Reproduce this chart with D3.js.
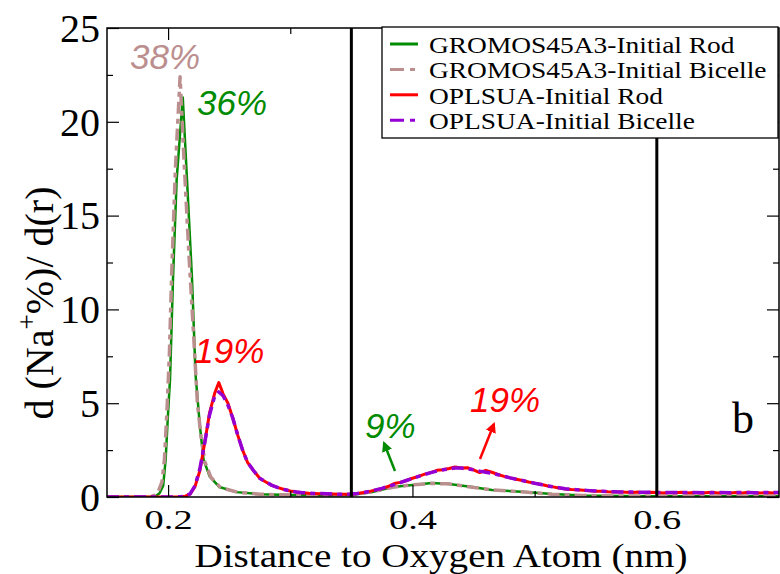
<!DOCTYPE html>
<html><head><meta charset="utf-8">
<script src="https://cdn.jsdelivr.net/npm/d3@7"></script>
<style>
html,body{margin:0;padding:0;background:#fff;}
svg{display:block;}
</style>
</head><body>
<svg id="chart" width="780" height="574"></svg>
<script>
// ---------------- data ----------------
const xDomain = [0.15, 0.7];
const yDomain = [0, 25];
const xMajorTicks = [0.2, 0.4, 0.6];
const xMinorTicks = [0.3, 0.5];
const yMajorTicks = [0, 5, 10, 15, 20, 25];
const yMinorTicks = [2.5, 7.5, 12.5, 17.5, 22.5];
const xTickLabels = ["0.2", "0.4", "0.6"];
const yTickLabels = ["0", "5", "10", "15", "20", "25"];
const vLines = [0.35, 0.6];

const seriesNames = ["GROMOS45A3-Initial Rod", "GROMOS45A3-Initial Bicelle", "OPLSUA-Initial Rod", "OPLSUA-Initial Bicelle"];
const seriesColors = ["rgb(0,139,0)", "rgb(188,143,143)", "rgb(255,0,0)", "rgb(148,0,211)"];

const gromosRod = [[0.150,0],[0.170,0],[0.185,0],[0.190,0.05],[0.193,0.2],[0.196,0.6],[0.198,2.0],[0.200,4.5],[0.2016,6.3],[0.204,11.6],[0.207,16.9],[0.212,21.3],[0.2155,16.9],[0.2196,11.6],[0.2225,6.5],[0.226,3.8],[0.229,2.0],[0.234,1.1],[0.242,0.53],[0.256,0.26],[0.275,0.15],[0.300,0.1],[0.330,0.08],[0.350,0.1],[0.367,0.27],[0.384,0.53],[0.400,0.64],[0.416,0.74],[0.430,0.69],[0.449,0.53],[0.465,0.37],[0.493,0.27],[0.514,0.16],[0.540,0.08],[0.570,0.05],[0.600,0.04],[0.650,0.04],[0.700,0.04]];

const gromosBicelle = [[0.150,0],[0.170,0],[0.185,0],[0.189,0.1],[0.192,0.3],[0.195,0.8],[0.197,2.0],[0.199,4.5],[0.201,7.5],[0.203,12],[0.206,17.5],[0.2098,22.4],[0.213,18],[0.217,13],[0.221,8.5],[0.224,5],[0.227,3.2],[0.230,1.9],[0.235,1.05],[0.243,0.5],[0.257,0.25],[0.275,0.15],[0.300,0.1],[0.330,0.08],[0.350,0.11],[0.367,0.28],[0.384,0.52],[0.400,0.65],[0.416,0.72],[0.430,0.7],[0.449,0.52],[0.465,0.38],[0.493,0.26],[0.514,0.15],[0.540,0.08],[0.570,0.05],[0.600,0.05],[0.650,0.05],[0.700,0.05]];

const oplsRod = [[0.150,0],[0.200,0],[0.210,0.01],[0.214,0.04],[0.218,0.15],[0.222,0.55],[0.226,1.4],[0.230,2.9],[0.234,4.5],[0.238,5.5],[0.2415,6.1],[0.245,5.5],[0.249,5.0],[0.253,4.2],[0.257,3.3],[0.261,2.5],[0.265,1.85],[0.270,1.4],[0.275,1.0],[0.280,0.8],[0.285,0.62],[0.290,0.5],[0.295,0.4],[0.300,0.32],[0.305,0.27],[0.310,0.23],[0.315,0.2],[0.320,0.19],[0.325,0.17],[0.330,0.17],[0.335,0.16],[0.340,0.15],[0.345,0.14],[0.350,0.15],[0.355,0.19],[0.360,0.24],[0.365,0.3],[0.370,0.38],[0.375,0.45],[0.380,0.56],[0.385,0.72],[0.390,0.78],[0.395,0.88],[0.400,1.0],[0.405,1.1],[0.410,1.22],[0.415,1.3],[0.420,1.42],[0.425,1.45],[0.430,1.52],[0.435,1.6],[0.440,1.55],[0.445,1.56],[0.450,1.45],[0.455,1.3],[0.460,1.42],[0.465,1.32],[0.470,1.2],[0.475,1.1],[0.480,1.02],[0.485,0.95],[0.490,0.88],[0.495,0.8],[0.500,0.74],[0.505,0.68],[0.510,0.6],[0.515,0.54],[0.520,0.48],[0.525,0.43],[0.530,0.4],[0.535,0.38],[0.540,0.36],[0.545,0.33],[0.550,0.31],[0.555,0.3],[0.560,0.28],[0.565,0.27],[0.570,0.26],[0.575,0.25],[0.580,0.24],[0.585,0.26],[0.590,0.23],[0.595,0.25],[0.600,0.24],[0.605,0.22],[0.610,0.24],[0.615,0.23],[0.620,0.25],[0.625,0.22],[0.630,0.24],[0.635,0.21],[0.640,0.23],[0.645,0.25],[0.650,0.22],[0.655,0.24],[0.660,0.21],[0.665,0.24],[0.670,0.22],[0.675,0.25],[0.680,0.23],[0.685,0.21],[0.690,0.24],[0.695,0.22],[0.700,0.23]];

const oplsBicelle = [[0.150,0],[0.200,0],[0.210,0.01],[0.214,0.05],[0.218,0.17],[0.222,0.6],[0.226,1.5],[0.230,2.9],[0.234,4.4],[0.238,5.35],[0.2415,5.6],[0.245,5.4],[0.249,4.9],[0.253,4.2],[0.257,3.3],[0.261,2.5],[0.265,1.85],[0.270,1.4],[0.275,1.0],[0.280,0.8],[0.285,0.62],[0.290,0.5],[0.295,0.4],[0.300,0.32],[0.305,0.27],[0.310,0.23],[0.315,0.21],[0.320,0.19],[0.325,0.18],[0.330,0.17],[0.335,0.16],[0.340,0.15],[0.345,0.15],[0.350,0.16],[0.355,0.19],[0.360,0.24],[0.365,0.3],[0.370,0.38],[0.375,0.46],[0.380,0.56],[0.385,0.66],[0.390,0.77],[0.395,0.88],[0.400,0.99],[0.405,1.1],[0.410,1.2],[0.415,1.3],[0.420,1.38],[0.425,1.45],[0.430,1.5],[0.435,1.54],[0.440,1.54],[0.445,1.5],[0.450,1.45],[0.455,1.38],[0.460,1.32],[0.465,1.26],[0.470,1.19],[0.475,1.1],[0.480,1.02],[0.485,0.95],[0.490,0.88],[0.495,0.8],[0.500,0.73],[0.505,0.67],[0.510,0.6],[0.515,0.54],[0.520,0.49],[0.525,0.44],[0.530,0.41],[0.535,0.38],[0.540,0.36],[0.545,0.34],[0.550,0.32],[0.555,0.3],[0.560,0.29],[0.565,0.28],[0.570,0.27],[0.575,0.26],[0.580,0.26],[0.585,0.25],[0.590,0.25],[0.595,0.25],[0.600,0.24],[0.610,0.24],[0.620,0.24],[0.630,0.24],[0.640,0.23],[0.650,0.24],[0.660,0.23],[0.670,0.24],[0.680,0.23],[0.690,0.24],[0.700,0.24]];

// annotations: text, data x, data y (baseline), colour index
const annoTexts = ["38%", "36%", "19%", "9%", "19%"];
const annoX = [0.1688, 0.2237, 0.2215, 0.3612, 0.4471];
const annoY = [22.81, 20.36, 7.14, 3.14, 4.53];
const annoColor = [1, 0, 2, 0, 2];
// arrows: [x0,y0,x1,y1] in data units (tail -> tip)
const arrows = [[0.3857, 1.39, 0.3767, 2.88], [0.4553, 2.03, 0.4667, 3.89]];
const arrowColor = [0, 2];
const panelLabel = "b";

// ---------------- layout ----------------
const M = {left: 107, top: 28, right: 779, bottom: 497};
const svg = d3.select("#chart");
const x = d3.scaleLinear().domain(xDomain).range([M.left, M.right]);
const y = d3.scaleLinear().domain(yDomain).range([M.bottom, M.top]);
const serif = "'Liberation Serif','Times New Roman',serif";
const sans = "'Liberation Sans',Arial,sans-serif";

svg.append("defs").append("clipPath").attr("id", "clip")
  .append("rect").attr("x", M.left).attr("y", M.top)
  .attr("width", M.right - M.left).attr("height", M.bottom - M.top);

const defs = svg.select("defs");
seriesColors.forEach((c, i) => {
  defs.append("marker").attr("id", "arr" + i)
    .attr("viewBox", "0 0 10 10").attr("refX", 8).attr("refY", 5)
    .attr("markerWidth", 4.2).attr("markerHeight", 4.2)
    .attr("markerUnits", "strokeWidth").attr("orient", "auto")
    .append("path").attr("d", "M0,0 L10,5 L0,10 z").attr("fill", c);
});

// curves
const line = d3.line().x(d => x(d[0])).y(d => y(d[1]));
const curves = [
  {data: gromosRod, c: 0, w: 2.5, dash: null},
  {data: gromosBicelle, c: 1, w: 3.5, dash: "12,5,5,5"},
  {data: oplsRod, c: 2, w: 3, dash: null},
  {data: oplsBicelle, c: 3, w: 3.5, dash: "12,5,5,5"}
];
const gC = svg.append("g").attr("clip-path", "url(#clip)");
curves.forEach(s => {
  gC.append("path").datum(s.data).attr("d", line)
    .attr("fill", "none").attr("stroke", seriesColors[s.c])
    .attr("stroke-width", s.w).attr("stroke-linejoin", "round")
    .attr("stroke-dasharray", s.dash);
});

// vertical reference lines
svg.append("g").selectAll("line").data(vLines).join("line")
  .attr("x1", d => x(d)).attr("x2", d => x(d))
  .attr("y1", M.top).attr("y2", M.bottom)
  .attr("stroke", "#000").attr("stroke-width", 3);

// axes
function styleAxis(g) {
  g.select(".domain").remove();
  g.selectAll(".tick line").attr("stroke", "#000").attr("stroke-width", 1.2);
}
svg.append("g").attr("transform", `translate(0,${M.bottom})`)
  .call(d3.axisBottom(x).tickValues(xMajorTicks).tickSize(-12).tickPadding(12)
    .tickFormat((d, i) => xTickLabels[i]))
  .call(styleAxis)
  .call(g => g.selectAll("text").attr("font-family", serif).attr("font-size", 28)
    .attr("fill", "#000").attr("textLength", 48).attr("lengthAdjust", "spacingAndGlyphs"));
svg.append("g").attr("transform", `translate(0,${M.bottom})`)
  .call(d3.axisBottom(x).tickValues(xMinorTicks).tickSize(-6).tickFormat(""))
  .call(styleAxis);
svg.append("g").attr("transform", `translate(0,${M.top})`)
  .call(d3.axisTop(x).tickValues(xMajorTicks).tickSize(-12).tickFormat(""))
  .call(styleAxis);
svg.append("g").attr("transform", `translate(0,${M.top})`)
  .call(d3.axisTop(x).tickValues(xMinorTicks).tickSize(-6).tickFormat(""))
  .call(styleAxis);
svg.append("g").attr("transform", `translate(${M.left},0)`)
  .call(d3.axisLeft(y).tickValues(yMajorTicks).tickSize(-12).tickPadding(7)
    .tickFormat((d, i) => yTickLabels[i]))
  .call(styleAxis)
  .call(g => g.selectAll("text").attr("font-family", serif).attr("font-size", 40)
    .attr("fill", "#000").attr("dy", "0.33em"));
svg.append("g").attr("transform", `translate(${M.left},0)`)
  .call(d3.axisLeft(y).tickValues(yMinorTicks).tickSize(-6).tickFormat(""))
  .call(styleAxis);
svg.append("g").attr("transform", `translate(${M.right},0)`)
  .call(d3.axisRight(y).tickValues(yMajorTicks).tickSize(-12).tickFormat(""))
  .call(styleAxis);
svg.append("g").attr("transform", `translate(${M.right},0)`)
  .call(d3.axisRight(y).tickValues(yMinorTicks).tickSize(-6).tickFormat(""))
  .call(styleAxis);

// frame
svg.append("rect").attr("x", M.left).attr("y", M.top)
  .attr("width", M.right - M.left).attr("height", M.bottom - M.top)
  .attr("fill", "none").attr("stroke", "#000").attr("stroke-width", 1.5);

// axis titles
svg.append("text").attr("x", 441).attr("y", 567).attr("text-anchor", "middle")
  .attr("font-family", serif).attr("font-size", 34)
  .attr("textLength", 493).attr("lengthAdjust", "spacingAndGlyphs")
  .text("Distance to Oxygen Atom (nm)");
const yt = svg.append("text").attr("transform", "translate(53,303) rotate(-90)")
  .attr("text-anchor", "middle").attr("font-family", serif).attr("font-size", 40);
yt.append("tspan").text("d (Na");
yt.append("tspan").attr("dy", -17).attr("font-size", 27).text("+");
yt.append("tspan").attr("dy", 17).text("%)/ d(r)");

// annotations
svg.append("g").selectAll("text").data(annoTexts).join("text")
  .attr("x", (d, i) => x(annoX[i])).attr("y", (d, i) => y(annoY[i]))
  .attr("font-family", sans).attr("font-style", "italic").attr("font-size", 35)
  .attr("fill", (d, i) => seriesColors[annoColor[i]])
  .text(d => d);
svg.append("g").selectAll("line").data(arrows).join("line")
  .attr("x1", d => x(d[0])).attr("y1", d => y(d[1]))
  .attr("x2", d => x(d[2])).attr("y2", d => y(d[3]))
  .attr("stroke", (d, i) => seriesColors[arrowColor[i]]).attr("stroke-width", 2.5)
  .attr("marker-end", (d, i) => `url(#arr${arrowColor[i]})`);

svg.append("text").attr("x", x(0.6615)).attr("y", y(3.41))
  .attr("font-family", serif).attr("font-size", 44).text(panelLabel);

// legend
const lg = svg.append("g");
lg.append("rect").attr("x", 382).attr("y", 27).attr("width", 396).attr("height", 111)
  .attr("fill", "#fff").attr("stroke", "#000").attr("stroke-width", 1.3);
const dashes = [null, "14,6,5,6", null, "14,6,5,6"];
seriesNames.forEach((n, i) => {
  const by = 53 + i * 25.4;
  lg.append("line").attr("x1", 390).attr("x2", 418).attr("y1", by - 9).attr("y2", by - 9)
    .attr("stroke", seriesColors[i]).attr("stroke-width", 3).attr("stroke-dasharray", dashes[i]);
  lg.append("text").attr("x", 429).attr("y", by)
    .attr("font-family", serif).attr("font-size", 22.5)
    .attr("transform", `translate(429,0) scale(1.22,1) translate(-429,0)`)
    .text(n);
});
</script>
</body></html>
